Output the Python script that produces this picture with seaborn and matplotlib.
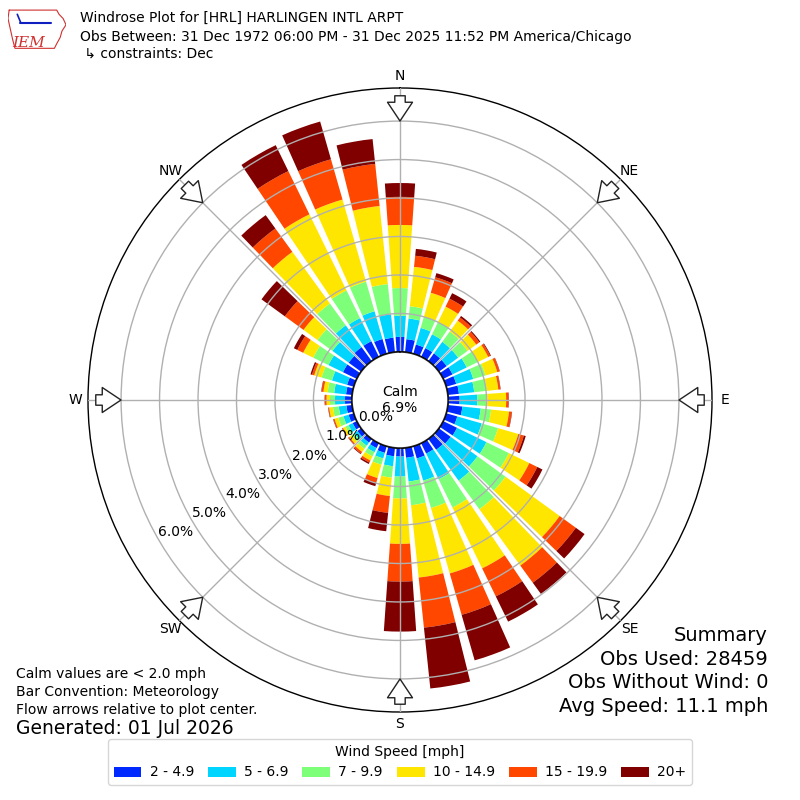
import numpy as np
import matplotlib
matplotlib.use("Agg")
import matplotlib.pyplot as plt
import seaborn as sns

# direction bins (degrees, wind "from"), 10 degree bars
directions = list(range(0, 360, 10))

# cumulative frequency (%) up to the top of each speed class
cum_2_5 = [0.39, 0.34, 0.25, 0.25, 0.25, 0.25, 0.27, 0.27, 0.29, 0.30,
           0.38, 0.30, 0.40, 0.38, 0.35, 0.30, 0.33, 0.26, 0.22, 0.22,
           0.18, 0.14, 0.12, 0.12, 0.12, 0.14, 0.15, 0.18, 0.16, 0.18,
           0.40, 0.40, 0.45, 0.45, 0.40, 0.38]
cum_5_7 = [0.94, 0.88, 0.70, 0.65, 0.62, 0.62, 0.68, 0.73, 0.69, 0.76,
           0.86, 0.96, 1.25, 1.24, 1.34, 1.04, 0.93, 0.88, 0.74, 0.48,
           0.33, 0.26, 0.22, 0.22, 0.24, 0.28, 0.35, 0.44, 0.47, 0.59,
           0.82, 0.92, 1.15, 1.12, 1.15, 0.99]
cum_7_10 = [1.66, 1.20, 1.00, 1.00, 0.95, 0.92, 1.00, 1.06, 1.02, 1.02,
            1.13, 1.40, 1.90, 2.14, 2.26, 1.86, 1.67, 1.50, 1.31, 0.78,
            0.50, 0.38, 0.32, 0.30, 0.33, 0.42, 0.50, 0.57, 0.64, 0.87,
            1.26, 1.40, 1.85, 1.92, 1.95, 1.78]
cum_10_15 = [3.30, 2.23, 1.65, 1.45, 1.30, 1.20, 1.30, 1.38, 1.32, 1.51,
             1.60, 1.95, 2.49, 3.88, 4.07, 3.62, 3.44, 3.39, 2.49, 1.26,
             0.86, 0.50, 0.42, 0.38, 0.40, 0.52, 0.60, 0.66, 0.75, 1.07,
             1.55, 1.85, 3.51, 4.12, 4.17, 3.82]
cum_15_20 = [4.03, 2.52, 2.07, 1.68, 1.40, 1.30, 1.36, 1.44, 1.37, 1.57,
             1.67, 2.10, 2.72, 4.40, 4.62, 4.43, 4.56, 4.70, 3.47, 1.70,
             1.00, 0.56, 0.47, 0.41, 0.42, 0.55, 0.62, 0.70, 0.80, 1.13,
             1.72, 2.45, 4.26, 5.37, 5.26, 4.92]
cum_20_up = [4.39, 2.70, 2.18, 1.84, 1.45, 1.33, 1.38, 1.45, 1.38, 1.58,
             1.68, 2.15, 2.87, 4.68, 4.98, 5.16, 5.79, 6.29, 4.77, 2.18,
             1.08, 0.60, 0.49, 0.42, 0.43, 0.56, 0.63, 0.71, 0.81, 1.17,
             1.82, 3.20, 4.69, 6.12, 6.28, 5.57]

speed_labels = ["2 - 4.9", "5 - 6.9", "7 - 9.9", "10 - 14.9", "15 - 19.9", "20+"]
ring_values = [0, 1, 2, 3, 4, 5, 6]
compass = ["N", "NE", "E", "SE", "S", "SW", "W", "NW"]
calm_pct = 6.9

sns.set_theme(style="white")
plt.rcParams["font.family"] = ["DejaVu Sans"]
plt.rcParams["text.color"] = "black"
plt.rcParams["xtick.color"] = "black"
plt.rcParams["ytick.color"] = "black"
plt.rcParams["legend.labelcolor"] = "black"

colors = sns.color_palette(plt.get_cmap("jet")(np.linspace(0, 1, 7)[1:]))

fig = plt.figure(figsize=(8, 8), dpi=100)
ax = fig.add_axes([0.11, 0.11, 0.78, 0.78], projection="polar")
ax.set_theta_zero_location("N")
ax.set_theta_direction(-1)
ax.set_rorigin(-1.25)
ax.set_ylim(0, 6.86)

theta = np.deg2rad(directions)
tops = [cum_2_5, cum_5_7, cum_7_10, cum_10_15, cum_15_20, cum_20_up]
bottom = np.zeros(len(directions))
for top, col, lab in zip(tops, colors, speed_labels):
    top = np.array(top)
    ax.bar(theta, top - bottom, width=np.deg2rad(8), bottom=bottom,
           color=col, edgecolor="none", label=lab, zorder=1)
    bottom = top

# grid on top of bars, like the original
ax.set_axisbelow(False)
ax.set_rgrids(ring_values[1:])
ax.set_yticklabels([])
ax.set_thetagrids(range(0, 360, 45), labels=compass, fontsize=10)
ax.tick_params(axis="x", pad=2, length=0, colors="black")
ax.grid(True, color="#b0b0b0", lw=1)
ax.spines["polar"].set_color("black")
ax.spines["polar"].set_linewidth(1)

# ring labels
for rv in ring_values:
    ax.text(np.deg2rad(240), rv, f"{rv:.1f}%", ha="left", va="bottom",
            fontsize=10, zorder=5)

# calm circle
circ = np.linspace(0, 2 * np.pi, 360)
ax.plot(circ, np.zeros_like(circ), color="black", lw=1, zorder=4)
ax.text(0.5, 0.5, f"Calm\n{calm_pct:.1f}%", transform=ax.transAxes,
        ha="center", va="center", fontsize=10, zorder=5)

# flow arrows pointing to center
for ang in range(0, 360, 45):
    ax.annotate("", xy=(np.deg2rad(ang), 5.93), xytext=(np.deg2rad(ang), 6.73),
                arrowprops=dict(arrowstyle="simple,head_length=0.9,head_width=1.2,tail_width=0.5",
                                mutation_scale=15, fc="white", ec="#222222", lw=1),
                annotation_clip=False, zorder=6)

# header
fig.text(0.1, 0.9775, "Windrose Plot for [HRL] HARLINGEN INTL ARPT", fontsize=10, va="center")
fig.text(0.1, 0.954, "Obs Between: 31 Dec 1972 06:00 PM - 31 Dec 2025 11:52 PM America/Chicago",
         fontsize=10, va="center")
fig.text(0.1, 0.9325, " \u21b3 constraints: Dec", fontsize=10, va="center")

# logo (rough)
lax = fig.add_axes([8 / 800, 1 - 50 / 800, 58 / 800, 42 / 800])
lax.set_xlim(0, 1)
lax.set_ylim(0, 1)
lax.axis("off")
ox = [0.02, 0.84, 0.88, 0.95, 1.0, 0.93, 0.9, 0.84, 0.8, 0.12, 0.08, 0.04, 0.0, 0.02]
oy = [0.95, 0.95, 0.85, 0.75, 0.6, 0.45, 0.3, 0.15, 0.04, 0.04, 0.25, 0.5, 0.75, 0.95]
lax.plot(ox, oy, color="#d03030", lw=0.8)
lax.plot([0.2, 0.75], [0.65, 0.65], color="#1020c0", lw=1.5)
lax.plot([0.22, 0.16], [0.65, 0.85], color="#1020c0", lw=1.2)
lax.text(0.08, 0.08, "IEM", color="#d03030", fontsize=11, family="DejaVu Serif",
         style="italic")

# bottom left notes
fig.text(0.02, 0.1575, "Calm values are < 2.0 mph", fontsize=10, va="center")
fig.text(0.02, 0.135, "Bar Convention: Meteorology", fontsize=10, va="center")
fig.text(0.02, 0.1125, "Flow arrows relative to plot center.", fontsize=10, va="center")
fig.text(0.02, 0.089, "Generated: 01 Jul 2026", fontsize=13.5, va="center")

# summary
summary = ["Summary", "Obs Used: 28459", "Obs Without Wind: 0", "Avg Speed: 11.1 mph"]
for txt, yy in zip(summary, [0.206, 0.176, 0.1475, 0.1175]):
    fig.text(0.96, yy, txt, fontsize=14, ha="right", va="center")

handles, labels = ax.get_legend_handles_labels()
leg = fig.legend(handles, labels, loc="lower center", bbox_to_anchor=(0.5, 0.01), ncol=6,
                 title="Wind Speed [mph]", fontsize=10, title_fontsize=10, frameon=True,
                 fancybox=True, edgecolor="#cccccc", columnspacing=1.0, handletextpad=0.6)
leg.get_title().set_color("black")

fig.savefig("out.png", dpi=100, facecolor="white")
